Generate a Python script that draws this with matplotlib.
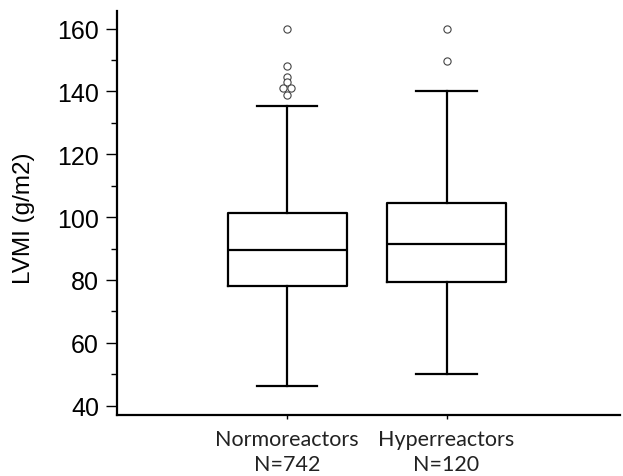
import matplotlib
matplotlib.use("Agg")
import matplotlib.pyplot as plt
from matplotlib.ticker import MultipleLocator

groups = ["Normoreactors\nN=742", "Hyperreactors\nN=120"]
whislo = [46.2, 50.0]
q1 = [78.0, 79.5]
med = [89.6, 91.4]
q3 = [101.3, 104.5]
whishi = [135.4, 140.2]
fliers = [[159.8, 148.2, 144.7, 142.9, 141.0, 141.0, 139.0],
          [160.0, 149.7]]
# small horizontal jitter of overlapping outliers
flier_dx = [[0, 0, 0, 0, -0.025, 0.025, 0],
            [0, 0]]

stats = []
for i in range(len(groups)):
    stats.append(dict(whislo=whislo[i], q1=q1[i], med=med[i], q3=q3[i],
                      whishi=whishi[i], fliers=[], label=groups[i]))

plt.rcParams['font.family'] = ['Liberation Sans', 'DejaVu Sans']

fig = plt.figure(figsize=(6.23, 4.77), dpi=100)
ax = fig.add_axes([0.1878, 0.1279, 0.807, 0.847])

lw = 1.6
positions = [1, 2]
ax.bxp(stats, positions=positions, widths=0.747, capwidths=0.38,
       showfliers=False,
       boxprops=dict(color='black', linewidth=lw),
       whiskerprops=dict(color='black', linewidth=lw),
       capprops=dict(color='black', linewidth=lw),
       medianprops=dict(color='black', linewidth=lw))

for i, pos in enumerate(positions):
    xs = [pos + d for d in flier_dx[i]]
    ax.plot(xs, fliers[i], linestyle='none', marker='o', markersize=5.2,
            markerfacecolor='white', markeredgecolor='#444444',
            markeredgewidth=0.8)

ax.set_xlim(-0.068, 3.087)
ax.set_ylim(37.04, 165.6)
ax.yaxis.set_major_locator(MultipleLocator(20))
ax.yaxis.set_minor_locator(MultipleLocator(10))

ax.spines['top'].set_visible(False)
ax.spines['right'].set_visible(False)
ax.spines['left'].set_linewidth(1.6)
ax.spines['bottom'].set_linewidth(1.6)

ax.tick_params(axis='y', which='major', length=8, width=1.0, labelsize=18, pad=5)
ax.tick_params(axis='y', which='minor', length=4.3, width=1.0)
ax.tick_params(axis='x', which='major', length=3, width=1.0, pad=7)
for lab in ax.get_xticklabels():
    lab.set_family(['Lato', 'DejaVu Sans'])
    lab.set_fontsize(15.5)
    lab.set_color('#222222')
    lab.set_linespacing(1.3)

ax.set_ylabel("LVMI (g/m2)", fontsize=17.5)
ax.yaxis.set_label_coords(-0.163, 0.49)

fig.savefig("out.png", dpi=100)
